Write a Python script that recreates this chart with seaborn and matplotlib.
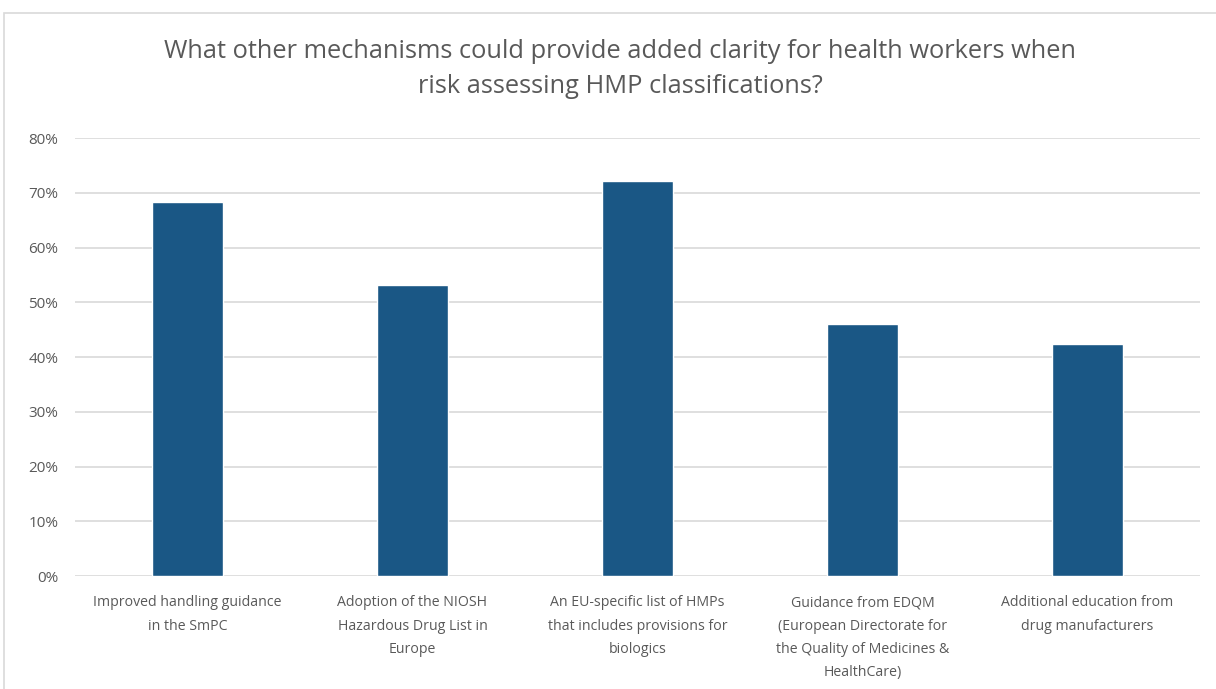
import matplotlib
matplotlib.use("Agg")
import matplotlib.pyplot as plt
import matplotlib.patches as mpatches
from matplotlib.ticker import PercentFormatter
import pandas as pd
import seaborn as sns

# Data
categories = [
    "Improved handling guidance\nin the SmPC",
    "Adoption of the NIOSH\nHazardous Drug List in\nEurope",
    "An EU-specific list of HMPs\nthat includes provisions for\nbiologics",
    "Guidance from EDQM\n(European Directorate for\nthe Quality of Medicines &\nHealthCare)",
    "Additional education from\ndrug manufacturers",
]
shares = [0.683, 0.531, 0.722, 0.461, 0.424]
y_ticks = [0, 0.1, 0.2, 0.3, 0.4, 0.5, 0.6, 0.7, 0.8]

df = pd.DataFrame({"mechanism": categories, "share": shares})

sns.set_style("white")
plt.rcParams["font.family"] = ["Open Sans", "DejaVu Sans"]

fig = plt.figure(figsize=(12.16, 6.89), dpi=100)
ax = fig.add_axes([0.0617, 0.164, 0.925, 0.6357])

sns.barplot(data=df, x="mechanism", y="share", color="#1a5785", saturation=1,
            width=0.316, ax=ax)

ax.set_ylim(0, 0.8)
ax.set_yticks(y_ticks)
ax.yaxis.set_major_formatter(PercentFormatter(1.0, decimals=0))
ax.grid(axis="y", color="#d9d9d9", linewidth=1.2)
ax.set_axisbelow(True)
for s in ax.spines.values():
    s.set_visible(False)
ax.tick_params(axis="both", length=0, colors="#595959")
ax.tick_params(axis="x", pad=14, labelsize=10.2)
ax.tick_params(axis="y", pad=12, labelsize=11)
ax.set_xlabel("")
ax.set_ylabel("")
for lbl in ax.get_xticklabels():
    lbl.set_linespacing(1.75)

fig.text(0.51, 0.9, "What other mechanisms could provide added clarity for health workers when\nrisk assessing HMP classifications?",
         ha="center", va="center", fontsize=18.3, color="#595959", linespacing=1.5)

# light chart frame
fig.patches.append(mpatches.Rectangle((4 / 1216, -0.05), 1.2, (689 - 13) / 689 + 0.05,
                                      transform=fig.transFigure, fill=False,
                                      edgecolor="#d9d9d9", linewidth=1.2))

fig.savefig("out.png", dpi=100)
